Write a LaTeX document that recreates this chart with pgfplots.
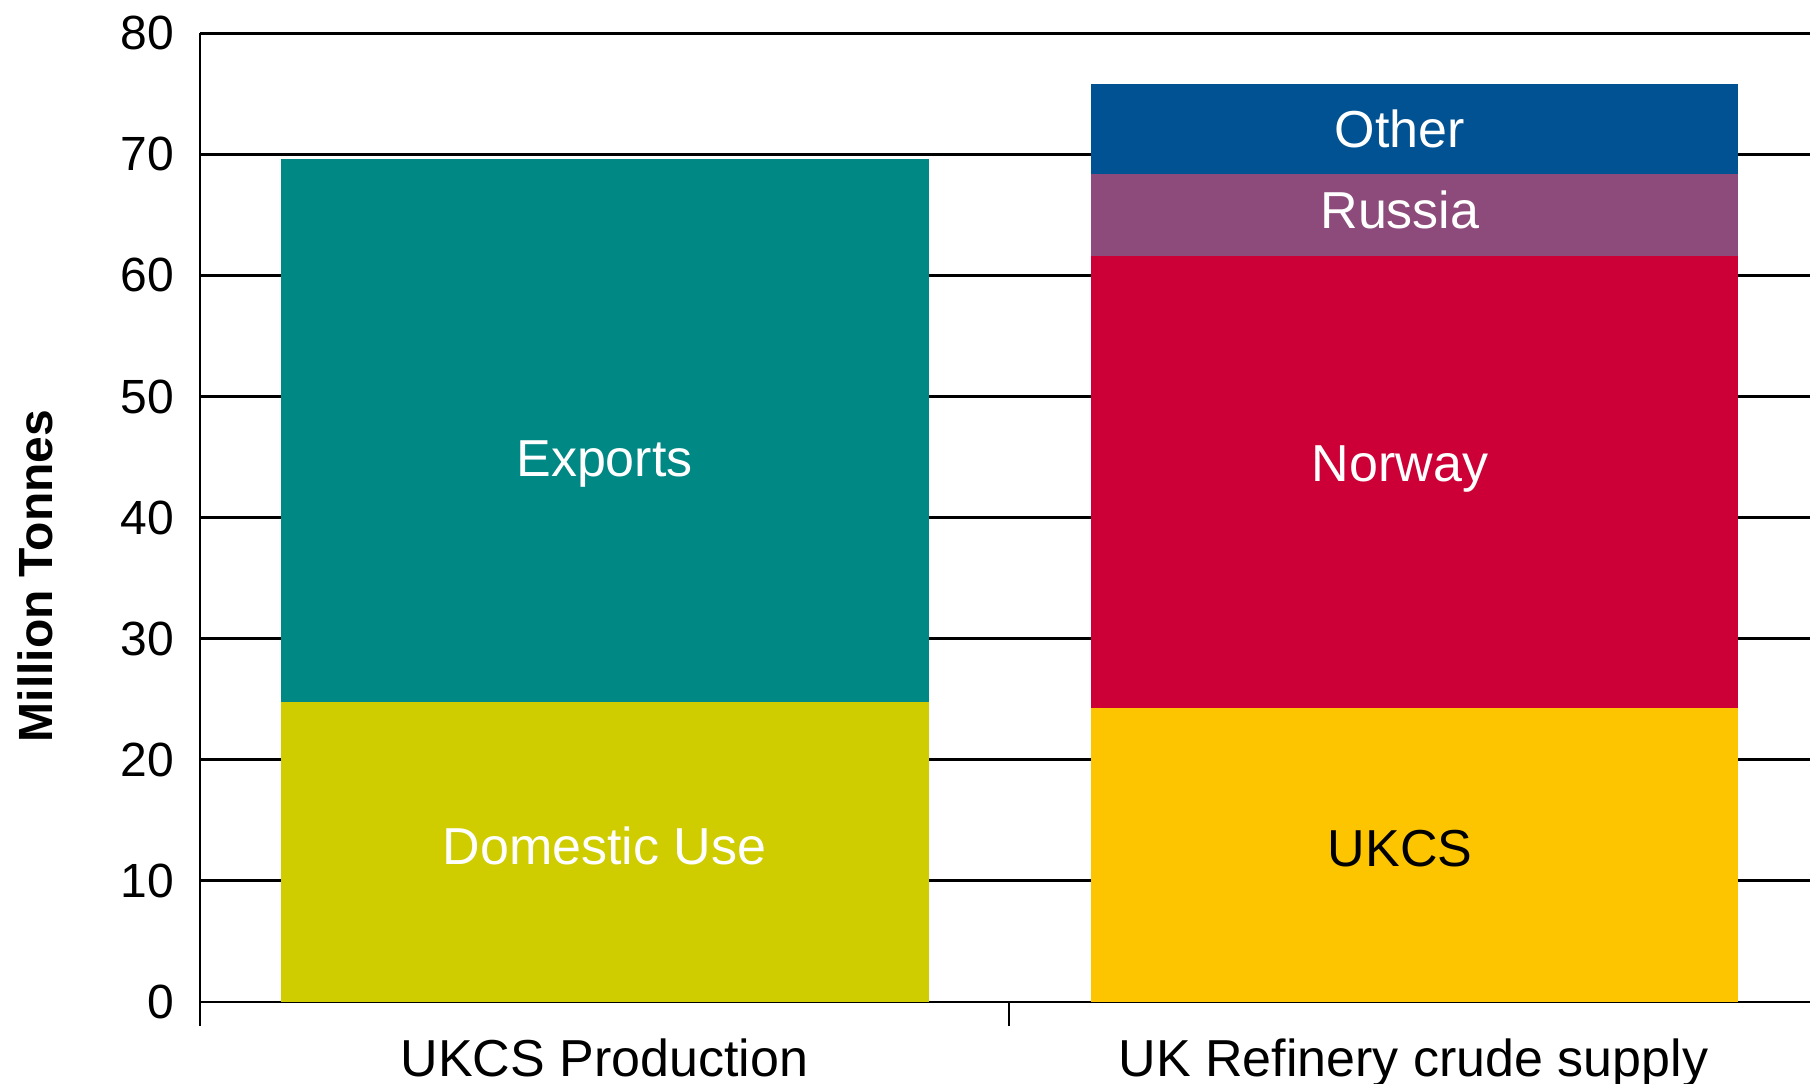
\documentclass[border=0pt]{standalone}
\usepackage{fontspec}
\setmainfont{Liberation Sans}
\usepackage{pgfplots}
\pgfplotsset{compat=1.18}
\definecolor{cDom}{HTML}{CFCD00}
\definecolor{cExp}{HTML}{008884}
\definecolor{cUK}{HTML}{FDC500}
\definecolor{cNor}{HTML}{CC0036}
\definecolor{cRus}{HTML}{8D4B7B}
\definecolor{cOth}{HTML}{005293}
\tikzset{lab/.style={font=\fontsize{13}{15}\selectfont, anchor=base, inner sep=0pt}}
\begin{document}
\begin{tikzpicture}
\path[use as bounding box] (-50pt,-20.425pt) rectangle (402.5pt,250.425pt);
\begin{axis}[
  at={(0,0)}, anchor=south west, scale only axis,
  width=402.5pt, height=242.1pt,
  xmin=200, xmax=1810, ymin=0, ymax=80,
  ybar stacked, bar width=161.9pt,
  clip=false,
  axis x line*=bottom, axis y line*=left,
  axis line style={-, black, line width=0.6pt},
  xtick={200,1009}, xticklabels={,},
  x tick style={black, line width=0.6pt},
  major tick length=6pt, tick align=outside,
  ytick={0,10,...,80},
  y tick style={draw=none},
  ymajorgrids, grid style={black, line width=0.6pt},
  yticklabel style={font=\fontsize{12}{14}\selectfont, xshift=3pt},
  /pgf/number format/assume math mode=true,
]
\addplot[fill=cDom, draw=none] coordinates {(604.75,24.8) (1414.5,0)};
\addplot[fill=cUK, draw=none] coordinates {(604.75,0) (1414.5,24.3)};
\addplot[fill=cExp, draw=none] coordinates {(604.75,44.8) (1414.5,0)};
\addplot[fill=cNor, draw=none] coordinates {(604.75,0) (1414.5,37.3)};
\addplot[fill=cRus, draw=none] coordinates {(604.75,0) (1414.5,6.8)};
\addplot[fill=cOth, draw=none] coordinates {(604.75,0) (1414.5,7.4)};

\coordinate (pExp) at (axis cs:604.5,43.4);
\coordinate (pDom) at (axis cs:604.5,11.3);
\coordinate (pOth) at (axis cs:1400,70.6);
\coordinate (pRus) at (axis cs:1400,63.9);
\coordinate (pNor) at (axis cs:1400,43.0);
\coordinate (pUK) at (axis cs:1400,11.2);
\coordinate (pX1) at (axis cs:604.5,0);
\coordinate (pX2) at (axis cs:1413.5,0);
\end{axis}
\node[lab, text=white] at (pExp) {Exports};
\node[lab, text=white] at (pDom) {Domestic Use};
\node[lab, text=white] at (pOth) {Other};
\node[lab, text=white] at (pRus) {Russia};
\node[lab, text=white] at (pNor) {Norway};
\node[lab, text=black] at (pUK) {UKCS};
\node[lab] at ([yshift=-18.6pt]pX1) {UKCS Production};
\node[lab] at ([yshift=-18.6pt]pX2) {UK Refinery crude supply};
\node[rotate=90, font=\fontsize{12}{14}\selectfont\bfseries, inner sep=0pt] at (-41.25pt,106.4pt) {Million Tonnes};
\end{tikzpicture}
\end{document}
